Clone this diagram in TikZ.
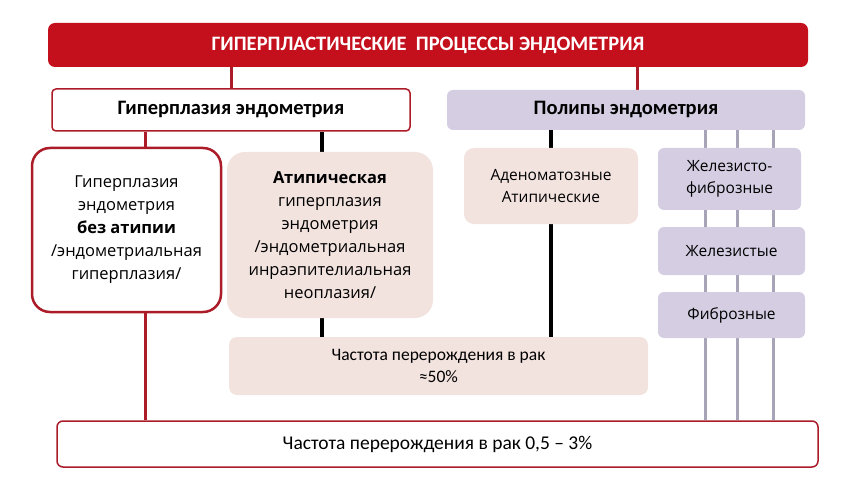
\documentclass[tikz,border=0pt]{standalone}
\usepackage{fontspec}
\setmainfont{Open Sans}
\newfontfamily\calib{Carlito}
\usetikzlibrary{backgrounds}
\definecolor{titlered}{RGB}{196,16,28}
\definecolor{framered}{RGB}{172,28,40}
\definecolor{lilac}{RGB}{213,206,227}
\definecolor{rose}{RGB}{242,227,223}
\definecolor{greyblue}{RGB}{168,164,184}

\begin{document}
\begin{tikzpicture}[x=1pt, y=-1pt,
    box/.style={rounded corners=6pt, inner sep=0pt, align=center},
    midtext/.style={font=\fontsize{16.5}{23}\selectfont},
    redline/.style={draw=framered, line width=3pt},
    blackline/.style={draw=black, line width=4pt},
    polypline/.style={draw=greyblue, line width=3pt}]
    \useasboundingbox (0,0) rectangle (850,494);

    % top levels
    \node[box, fill=titlered, minimum width=760pt, minimum height=44pt, rounded corners=7pt,
          text=white, font=\calib\bfseries\fontsize{20.5}{22}\selectfont] (title) at (428,45)
          {ГИПЕРПЛАСТИЧЕСКИЕ\ \ ПРОЦЕССЫ ЭНДОМЕТРИЯ};
    \node[box, fill=white, draw=framered, line width=1.5pt, minimum width=358pt, minimum height=42pt,
          rounded corners=4pt, font=\calib\bfseries\fontsize{20.5}{22}\selectfont] (hyper) at (231,110)
          {Гиперплазия эндометрия};
    \node[box, fill=lilac, minimum width=358pt, minimum height=40pt,
          font=\calib\bfseries\fontsize{20.5}{22}\selectfont] (polyp) at (626,110)
          {Полипы эндометрия};

    % hyperplasia branch
    \node[box, fill=white, draw=framered, line width=2.5pt, minimum width=189pt, minimum height=164pt,
          rounded corners=18pt, midtext] (nobox) at (126.5,230)
          {Гиперплазия\\эндометрия\\\textbf{без атипии}\\/эндометриальная\\гиперплазия/};
    \node[box, fill=rose, minimum width=206pt, minimum height=166pt, rounded corners=18pt,
          midtext] (atyp) at (330,235)
          {\textbf{Атипическая}\\гиперплазия\\эндометрия\\/эндометриальная\\инраэпителиальная\\неоплазия/};

    % polyp branch
    \node[box, fill=rose, minimum width=174pt, minimum height=76pt, rounded corners=10pt,
          font=\fontsize{15.5}{22}\selectfont] (aden) at (551,186) {Аденоматозные\\Атипические};
    \node[box, fill=lilac, minimum width=143pt, minimum height=62pt,
          font=\fontsize{15.5}{22}\selectfont] (glfib) at (729.5,179) {Железисто-\\фиброзные};
    \node[box, fill=lilac, minimum width=147pt, minimum height=48pt,
          font=\fontsize{15.5}{22}\selectfont] (gland) at (731.5,251) {Железистые};
    \node[box, fill=lilac, minimum width=147pt, minimum height=46pt,
          font=\fontsize{15.5}{22}\selectfont] (fibr) at (731.5,315) {Фиброзные};

    % risk
    \node[box, fill=rose, minimum width=419pt, minimum height=58pt, rounded corners=8pt,
          font=\calib\fontsize{17.5}{22}\selectfont] (fifty) at (438.5,366)
          {Частота перерождения в рак\\≈50\%};
    \node[box, fill=white, draw=framered, line width=1.5pt, minimum width=761pt, minimum height=46pt,
          font=\calib\fontsize{19.5}{22}\selectfont] (bot) at (437.5,444)
          {Частота перерождения в рак 0,5 – 3\%};

    % connectors
    \begin{scope}[on background layer]
        \draw[redline] (hyper.north |- title.south) -- (hyper.north);
        \draw[redline] ([xshift=11pt]polyp.north |- title.south) -- ([xshift=11pt]polyp.north);
        \coordinate (hx) at (145,0);
        \draw[redline] (hx |- hyper.south) -- (hx |- bot.north);
        \coordinate (ax) at (322,0);
        \draw[blackline] (ax |- hyper.south) -- (ax |- atyp.north);
        \draw[blackline] (ax |- atyp.south) -- (ax |- fifty.north);
        \draw[blackline] (aden.north |- polyp.south) -- (aden.north);
        \draw[blackline] (aden.south) -- (aden.south |- fifty.north);
        \foreach \gx in {705,737,773} {
            \coordinate (gx) at (\gx,0);
            \draw[polypline] (gx |- polyp.south) -- (gx |- bot.north);
        }
    \end{scope}
\end{tikzpicture}
\end{document}
